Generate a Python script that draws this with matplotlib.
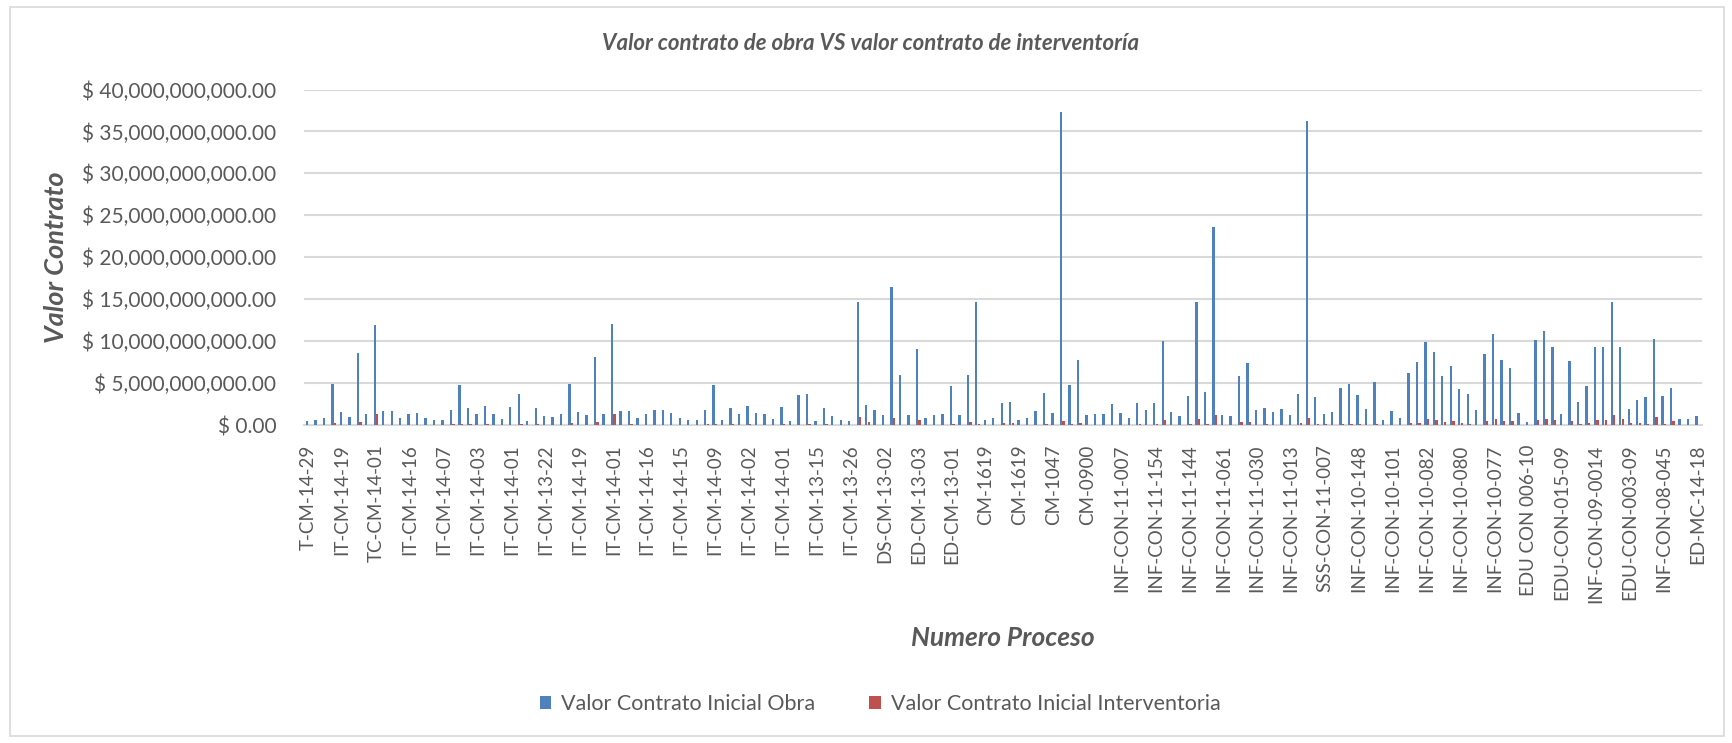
import matplotlib
matplotlib.use("Agg")
import matplotlib.pyplot as plt
from matplotlib.ticker import FuncFormatter, MultipleLocator
from matplotlib.patches import Rectangle
import numpy as np

plt.rcParams['font.family'] = ['Lato', 'DejaVu Sans']

# Values in billions of pesos (x 1e9)
obra_b = [
    0.52, 0.60, 0.84, 4.84, 1.50, 0.90, 8.64, 1.30, 11.90, 1.64,
    1.70, 0.84, 1.28, 1.44, 0.80, 0.60, 0.56, 1.84, 4.72, 2.08,
    1.28, 2.28, 1.32, 0.72, 2.20, 3.72, 0.52, 2.08, 1.08, 0.96,
    1.28, 4.84, 1.52, 1.20, 8.08, 1.36, 12.00, 1.64, 1.72, 0.84,
    1.28, 1.84, 1.84, 1.48, 0.80, 0.64, 0.56, 1.84, 4.72, 0.60,
    2.08, 1.28, 2.28, 1.44, 1.28, 0.72, 2.20, 0.52, 3.60, 3.72,
    0.52, 2.08, 1.08, 0.64, 0.48, 14.65, 2.36, 1.80, 1.20, 16.50,
    6.00, 1.20, 9.12, 0.80, 1.20, 1.28, 4.68, 1.20, 6.00, 14.65,
    0.64, 0.84, 2.60, 2.76, 0.56, 0.80, 1.72, 3.84, 1.48, 37.35,
    4.72, 7.72, 1.20, 1.32, 1.28, 2.52, 1.40, 0.80, 2.60, 1.76,
    2.64, 10.04, 1.60, 1.08, 3.40, 14.65, 3.96, 23.60, 1.24, 1.08,
    5.88, 7.36, 1.84, 2.04, 1.60, 1.92, 1.24, 3.64, 36.30, 3.36,
    1.28, 1.56, 4.40, 4.84, 3.56, 1.96, 5.08, 0.60, 1.72, 0.84,
    6.20, 7.56, 9.84, 8.72, 5.88, 7.04, 4.28, 3.68, 1.80, 8.44,
    10.88, 7.80, 6.76, 1.40, 0.40, 10.08, 11.20, 9.28, 1.28, 7.68,
    2.72, 4.60, 9.24, 9.24, 14.64, 9.24, 1.96, 3.04, 3.28, 10.24,
    3.44, 4.40, 0.68, 0.76, 1.04,
]
interventoria_b = [
    0.05, 0.05, 0.05, 0.20, 0.05, 0.03, 0.36, 0.05, 1.30, 0.05,
    0.05, 0.03, 0.05, 0.05, 0.03, 0.02, 0.02, 0.08, 0.16, 0.08,
    0.05, 0.10, 0.05, 0.03, 0.05, 0.16, 0.02, 0.08, 0.05, 0.05,
    0.05, 0.24, 0.05, 0.05, 0.36, 0.05, 1.32, 0.05, 0.08, 0.03,
    0.05, 0.05, 0.05, 0.05, 0.03, 0.02, 0.02, 0.08, 0.16, 0.02,
    0.08, 0.05, 0.10, 0.05, 0.05, 0.03, 0.08, 0.02, 0.05, 0.10,
    0.02, 0.08, 0.05, 0.03, 0.02, 0.96, 0.40, 0.05, 0.05, 0.88,
    0.05, 0.05, 0.60, 0.03, 0.05, 0.05, 0.16, 0.05, 0.36, 0.16,
    0.02, 0.03, 0.28, 0.24, 0.02, 0.05, 0.05, 0.16, 0.05, 0.52,
    0.16, 0.28, 0.05, 0.05, 0.05, 0.05, 0.05, 0.03, 0.10, 0.05,
    0.10, 0.64, 0.05, 0.05, 0.16, 0.68, 0.16, 1.16, 0.05, 0.05,
    0.32, 0.32, 0.05, 0.10, 0.05, 0.05, 0.05, 0.24, 0.80, 0.10,
    0.16, 0.05, 0.10, 0.10, 0.10, 0.05, 0.10, 0.02, 0.05, 0.03,
    0.28, 0.28, 0.72, 0.56, 0.40, 0.48, 0.24, 0.16, 0.03, 0.52,
    0.68, 0.52, 0.44, 0.05, 0.02, 0.64, 0.72, 0.56, 0.03, 0.48,
    0.16, 0.24, 0.64, 0.64, 1.24, 0.68, 0.24, 0.20, 0.16, 0.96,
    0.16, 0.44, 0.03, 0.03, 0.03,
]
tick_labels = [
    "T-CM-14-29", "IT-CM-14-19", "TC-CM-14-01", "IT-CM-14-16", "IT-CM-14-07",
    "IT-CM-14-03", "IT-CM-14-01", "IT-CM-13-22", "IT-CM-14-19", "IT-CM-14-01",
    "IT-CM-14-16", "IT-CM-14-15", "IT-CM-14-09", "IT-CM-14-02", "IT-CM-14-01",
    "IT-CM-13-15", "IT-CM-13-26", "DS-CM-13-02", "ED-CM-13-03", "ED-CM-13-01",
    "CM-1619", "CM-1619", "CM-1047", "CM-0900", "INF-CON-11-007",
    "INF-CON-11-154", "INF-CON-11-144", "INF-CON-11-061", "INF-CON-11-030",
    "INF-CON-11-013", "SSS-CON-11-007", "INF-CON-10-148", "INF-CON-10-101",
    "INF-CON-10-082", "INF-CON-10-080", "INF-CON-10-077", "EDU CON 006-10",
    "EDU-CON-015-09", "INF-CON-09-0014", "EDU-CON-003-09", "INF-CON-08-045",
    "ED-MC-14-18",
]
label_step = 4

obra = np.array(obra_b) * 1e9
interv = np.array(interventoria_b) * 1e9
n = len(obra)
x = np.arange(n)

W, H = 1733, 743
fig = plt.figure(figsize=(W / 100, H / 100), dpi=100)
fig.patch.set_facecolor("white")
fig.add_artist(Rectangle((10 / W, 7 / H), (1724 - 10) / W, (736 - 7) / H,
                         transform=fig.transFigure, fill=False,
                         edgecolor="#D9D9D9", lw=1.2))

ax = fig.add_axes([304 / W, 1 - 425 / H, 1398 / W, (425 - 89.5) / H])

blue = "#4F81BD"
red = "#C0504D"
bw = 0.28
ax.bar(x - 0.15, obra, width=bw, color=blue, zorder=3,
       label="Valor Contrato Inicial Obra")
ax.bar(x + 0.15, interv, width=bw, color=red, zorder=3,
       label="Valor Contrato Inicial Interventoria")

ax.set_xlim(-0.5, n - 0.5)
ax.set_ylim(0, 40e9)
ax.yaxis.set_major_locator(MultipleLocator(5e9))
ax.yaxis.set_major_formatter(FuncFormatter(lambda v, p: "$ {:,.2f}".format(v)))
ax.grid(axis="y", color="#D9D9D9", lw=1.5, zorder=0)
ax.set_axisbelow(True)
for s in ["top", "right", "left"]:
    ax.spines[s].set_visible(False)
ax.spines["bottom"].set_color("#D9D9D9")
ax.spines["bottom"].set_linewidth(1.5)

ticks = x[::label_step]
ax.set_xticks(ticks)
ax.set_xticklabels(tick_labels, rotation=90, fontsize=13.5, color="#595959")
ax.tick_params(axis="x", length=0, pad=14)
ax.tick_params(axis="y", length=0, pad=20, labelsize=15, labelcolor="#595959")

fig.text(871 / W, 1 - 44 / H,
         "Valor contrato de obra VS valor contrato de interventoría",
         ha="center", va="center", fontsize=16, fontweight="bold",
         style="italic", color="#595959")
fig.text(56 / W, 1 - 257 / H, "Valor Contrato", rotation=90, ha="center",
         va="center", fontsize=19.5, fontweight="bold", style="italic",
         color="#595959")
fig.text(1003 / W, 1 - 638 / H, "Numero Proceso", ha="center", va="center",
         fontsize=19, fontweight="bold", style="italic", color="#595959")

handles, labels = ax.get_legend_handles_labels()
leg = fig.legend(handles, labels, loc="center", bbox_to_anchor=(880 / W, 1 - 704 / H),
                 ncol=2, frameon=False, fontsize=15.5, handlelength=0.55,
                 handleheight=0.55, handletextpad=0.45, columnspacing=2.5)
for t in leg.get_texts():
    t.set_color("#595959")

fig.savefig("out.png", dpi=100, facecolor="white")
